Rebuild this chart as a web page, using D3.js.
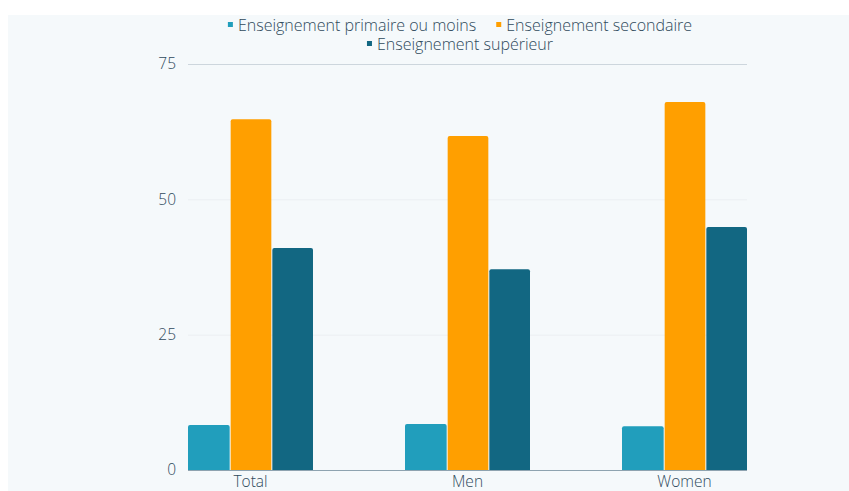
<!DOCTYPE html>
<html>
<head>
<meta charset="utf-8">
<script src="https://cdn.jsdelivr.net/npm/d3@7"></script>
<style>
  body { margin: 0; background: #fff; }
  svg { display: block; font-family: "Open Sans", sans-serif; font-weight: 300; }
</style>
</head>
<body>
<svg id="chart" width="849" height="491"></svg>
<script>
const categories = ["Total", "Men", "Women"];
const seriesNames = ["Enseignement primaire ou moins", "Enseignement secondaire", "Enseignement supérieur"];
const primaire = [8.3, 8.5, 8.1];
const secondaire = [64.8, 61.7, 68.0];
const superieur = [41.0, 37.1, 44.9];
const yTicks = [0, 25, 50, 75];
const colors = ["#219ebc", "#ff9f00", "#126782"];

const series = [primaire, secondaire, superieur];
const width = 849, height = 491;
const margin = { left: 188, right: 102, top: 64, bottom: 21 };
const svg = d3.select("#chart");

// panel background
svg.append("rect").attr("x", 8).attr("y", 15).attr("width", width - 8).attr("height", height - 15).attr("fill", "#f5f9fb");

let x0 = d3.scaleBand().domain(categories).range([margin.left, width - margin.right]).paddingInner(0.424).paddingOuter(0);
let x1 = d3.scaleBand().domain(d3.range(series.length)).range([0, x0.bandwidth()]).padding(0);
let y = d3.scaleLinear().domain([0, 75]).range([height - margin.bottom, margin.top]);

// grid
let yAxis = d3.axisLeft(y).tickValues(yTicks).tickSize(-(width - margin.right - margin.left)).tickPadding(12);
let gy = svg.append("g").attr("transform", "translate(" + margin.left + ",0)").call(yAxis);
gy.select(".domain").remove();
gy.selectAll(".tick line").attr("stroke", function(d) { return d == 75 ? "#cdd6dd" : "#ebeff2"; });
gy.selectAll(".tick text").attr("fill", "#2f4a5b").attr("font-size", 15.5).attr("font-family", "Open Sans").attr("font-weight", 300);

// bars
function roundTop(xp, yp, w, h, r) {
  r = Math.min(r, h);
  return "M" + xp + "," + (yp + h) + "V" + (yp + r) + "Q" + xp + "," + yp + " " + (xp + r) + "," + yp +
    "H" + (xp + w - r) + "Q" + (xp + w) + "," + yp + " " + (xp + w) + "," + (yp + r) + "V" + (yp + h) + "Z";
}
series.forEach(function(vals, si) {
  svg.selectAll(".bar-" + si)
    .data(vals)
    .enter().append("path")
    .attr("class", "bar bar-" + si)
    .attr("fill", colors[si])
    .attr("d", function(d, i) {
      let bx = x0(categories[i]) + x1(si) + (si > 0 ? 1 : 0);
      let bw = x1.bandwidth() - (si > 0 ? 1 : 0);
      return roundTop(bx, y(d), bw, y(0) - y(d), 2);
    });
});

// baseline
svg.append("line").attr("x1", margin.left).attr("x2", width - margin.right)
  .attr("y1", y(0) + 0.5).attr("y2", y(0) + 0.5).attr("stroke", "#8ea3b0").attr("stroke-width", 1.2);

// x axis labels
let xAxis = d3.axisBottom(x0).tickSize(0).tickPadding(8);
let gx = svg.append("g").attr("transform", "translate(0," + y(0) + ")").call(xAxis);
gx.select(".domain").remove();
gx.selectAll(".tick text").attr("fill", "#2f4a5b").attr("font-size", 15.5).attr("font-family", "Open Sans").attr("font-weight", 300)
  .attr("dy", "0.6em");

// legend
let rows = [[0, 1], [2]];
let rowY = [31, 50];
rows.forEach(function(row, ri) {
  let g = svg.append("g");
  let cx = 0;
  row.forEach(function(si, k) {
    if (k > 0) cx += 20;
    g.append("rect").attr("x", cx).attr("y", -9).attr("width", 5).attr("height", 5).attr("fill", colors[si]);
    let t = g.append("text").attr("x", cx + 10).attr("y", 0).attr("font-size", 16).attr("fill", "#2f4a5b").text(seriesNames[si]);
    cx += 10 + t.node().getComputedTextLength();
  });
  g.attr("transform", "translate(" + (460 - cx / 2) + "," + rowY[ri] + ")");
});
</script>
</body>
</html>
